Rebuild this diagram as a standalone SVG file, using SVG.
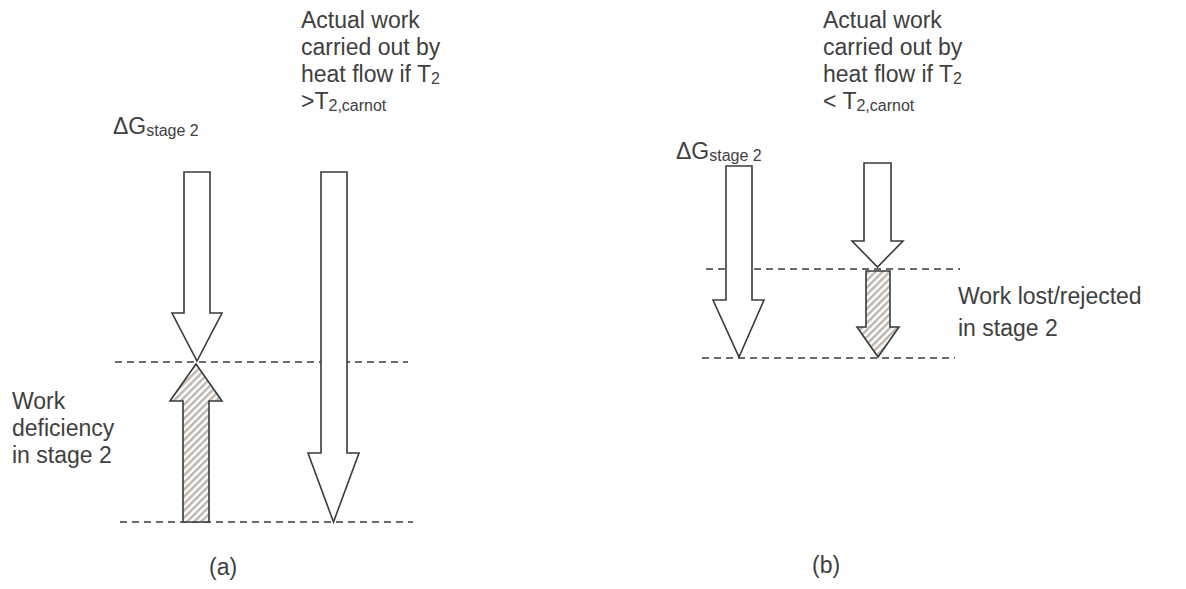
<svg xmlns="http://www.w3.org/2000/svg" width="1186" height="589" viewBox="0 0 1186 589">
<style>
  .t { font-family: "Liberation Sans", Arial, sans-serif; font-size: 23px; fill: #404040; }
  .sub { font-size: 16px; }
  .arrow { fill: #ffffff; stroke: #3a3a3a; stroke-width: 1.6; stroke-linejoin: miter; }
  .hatch { fill: url(#hatch); stroke: #3a3a3a; stroke-width: 1.6; }
  .dash { stroke: #3a3a3a; stroke-width: 1.4; stroke-dasharray: 7 5; fill: none; }
</style>
<defs>
  <pattern id="hatch" patternUnits="userSpaceOnUse" width="5" height="5" patternTransform="rotate(45)">
    <rect x="0" y="0" width="5" height="5" fill="#ffffff"/>
    <rect x="0" y="0" width="2.5" height="5" fill="#bfb5ad"/>
  </pattern>
</defs>
<rect width="1186" height="589" fill="#ffffff"/>

<g id="connectors">
  <line class="dash" x1="115" y1="362" x2="408" y2="362"/>
  <line class="dash" x1="120" y1="522" x2="413" y2="522"/>
  <line class="dash" x1="706" y1="269" x2="960" y2="269"/>
  <line class="dash" x1="702" y1="358" x2="955" y2="358"/>
</g>

<g id="a-dg-arrow">
  <polygon class="arrow" points="184,172 210,172 210,313 222,313 197,361 172,313 184,313"/>
</g>
<g id="a-deficiency-arrow">
  <polygon class="hatch" points="196,364 222,401 209,401 209,522 183,522 183,401 170,401"/>
</g>
<g id="a-actual-arrow">
  <polygon class="arrow" points="321,172 347,172 347,453 359,453 333.5,522 308,453 321,453"/>
</g>
<g id="b-dg-arrow">
  <polygon class="arrow" points="726,166 752,166 752,300 764,300 739,357 713,300 726,300"/>
</g>
<g id="b-actual-arrow">
  <polygon class="arrow" points="864,163 891,163 891,241 903,241 877.5,267 852,241 864,241"/>
</g>
<g id="b-lost-arrow">
  <polygon class="hatch" points="866,271 890,271 890,327 899,327 878,357 857,327 866,327"/>
</g>

<g id="a-dg-label">
  <text class="t" x="113" y="134">ΔG<tspan class="sub" dy="2">stage 2</tspan></text>
</g>
<g id="a-actual-label">
  <text class="t" x="301" y="28">Actual work</text>
  <text class="t" x="301" y="55">carried out by</text>
  <text class="t" x="301" y="82">heat flow if T<tspan class="sub" dy="2">2</tspan></text>
  <text class="t" x="301" y="109">&gt;T<tspan class="sub" dy="2">2,carnot</tspan></text>
</g>
<g id="a-deficiency-label">
  <text class="t" x="12" y="409">Work</text>
  <text class="t" x="12" y="436">deficiency</text>
  <text class="t" x="12" y="463">in stage 2</text>
</g>
<g id="a-caption">
  <text class="t" x="209" y="575">(a)</text>
</g>

<g id="b-dg-label">
  <text class="t" x="676" y="159">ΔG<tspan class="sub" dy="2">stage 2</tspan></text>
</g>
<g id="b-actual-label">
  <text class="t" x="823" y="28">Actual work</text>
  <text class="t" x="823" y="55">carried out by</text>
  <text class="t" x="823" y="82">heat flow if T<tspan class="sub" dy="2">2</tspan></text>
  <text class="t" x="823" y="109">&lt; T<tspan class="sub" dy="2">2,carnot</tspan></text>
</g>
<g id="b-lost-label">
  <text class="t" x="958" y="304">Work lost/rejected</text>
  <text class="t" x="958" y="336">in stage 2</text>
</g>
<g id="b-caption">
  <text class="t" x="812" y="573">(b)</text>
</g>
</svg>
